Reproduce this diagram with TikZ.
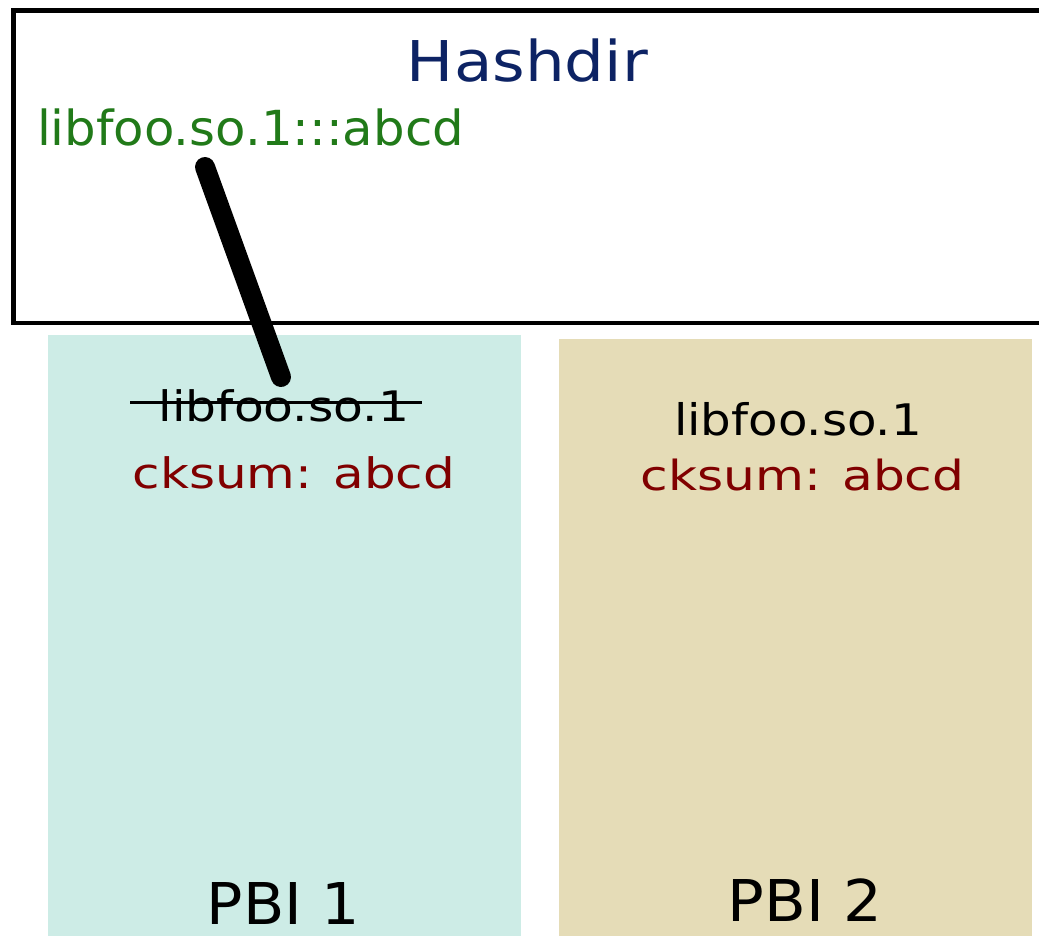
\documentclass[tikz,border=0pt]{standalone}
\usepackage{graphicx}
\usepackage{fontspec}
\setmainfont{DejaVu Sans}
\definecolor{hashblue}{HTML}{0D2364}
\definecolor{hashgreen}{HTML}{217A19}
\definecolor{sumred}{HTML}{800000}
\definecolor{pbionefill}{HTML}{CDECE6}
\definecolor{pbitwofill}{HTML}{E5DCB7}
\newcommand\myfs[1]{\fontsize{#1}{#1}\selectfont}
\tikzset{
  txt/.style={inner sep=0pt, outer sep=0pt, anchor=base},
  boxnode/.style={inner sep=0pt, outer sep=0pt, rectangle},
}
\begin{document}
\begin{tikzpicture}[x=1pt,y=-1pt]
\useasboundingbox (0,0) rectangle (1039,935);
\clip (0,0) rectangle (1039,935);
% boxes
\node[boxnode, draw=black, line width=4.5pt, minimum width=1046.5pt, minimum height=312.5pt] (hashdir) at (536.75,166.75) {};
\node[boxnode, fill=pbionefill, minimum width=472.4pt, minimum height=610pt] (pbi1) at (284.5,639.7) {};
\node[boxnode, fill=pbitwofill, minimum width=472.7pt, minimum height=610pt] (pbi2) at (795.35,644.3) {};
% texts
\node[txt, text=hashblue] (title) at (527.4,81.7) {\myfs{56.2}\scalebox{1.115}[1]{Hashdir}};
\node[txt, text=hashgreen] (entry) at (250.5,145) {\myfs{48.3}\scalebox{1.03}[1]{libfoo.so.1:::abcd}};
\node[txt, text=black] (lib1) at (284,421.7) {\myfs{42}\scalebox{1.16}[1]{libfoo.so.1}};
\node[txt, text=sumred] (sum1) at (294,488.3) {\myfs{42}\scalebox{1.19}[1]{cksum: abcd}};
\node[txt, text=black] (lib2) at (798,435) {\myfs{43.5}\scalebox{1.11}[1]{libfoo.so.1}};
\node[txt, text=sumred] (sum2) at (802.5,490.7) {\myfs{41.5}\scalebox{1.21}[1]{cksum: abcd}};
\node[txt, text=black] (lab1) at (283.5,924) {\myfs{57.6}\scalebox{1.047}[1]{PBI 1}};
\node[txt, text=black] (lab2) at (805.3,921.7) {\myfs{57.6}\scalebox{1.058}[1]{PBI 2}};
% strike-through of the old name
\coordinate (strikeL) at (130,402);
\coordinate (strikeR) at (421.7,402);
\draw[line width=3pt] (strikeL) -- (strikeR);
% thick link from hashdir entry to the file
\coordinate (linkTop) at (205,167);
\coordinate (linkBot) at (281,377);
\draw[line width=20pt, line cap=round] (linkTop) -- (linkBot);
\end{tikzpicture}
\end{document}
